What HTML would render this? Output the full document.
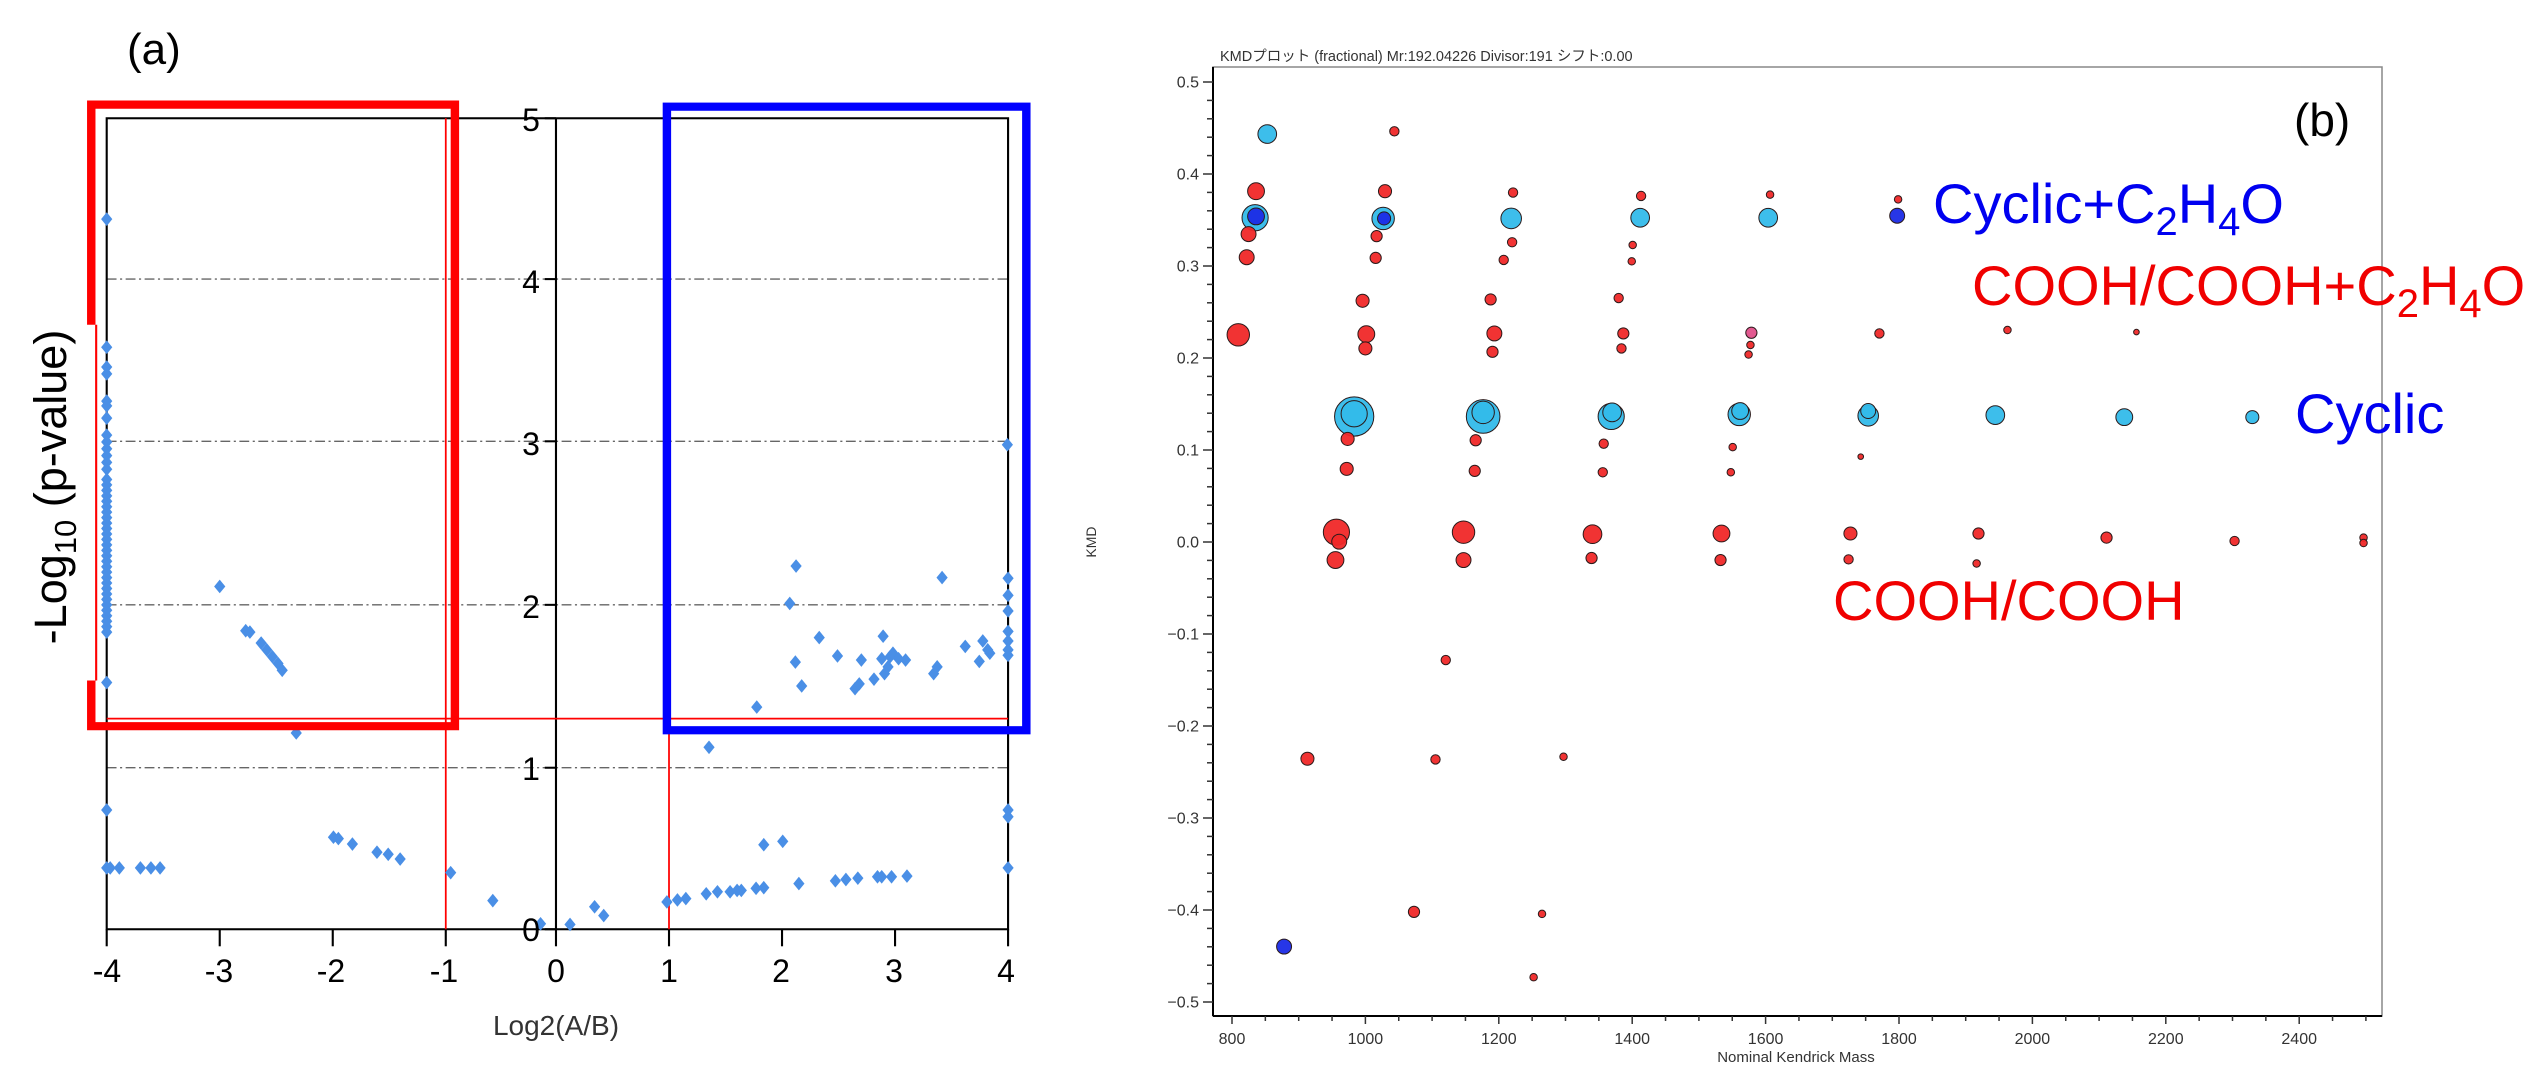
<!DOCTYPE html>
<html><head><meta charset="utf-8"><style>
html,body{margin:0;padding:0;background:#fff;}
svg{display:block;}
text{font-family:"Liberation Sans","Noto Sans CJK JP",sans-serif;}
</style></head><body>
<svg width="2543" height="1067" viewBox="0 0 2543 1067" xmlns="http://www.w3.org/2000/svg">
<rect width="2543" height="1067" fill="#fff"/>
<!-- LEFT PANEL in zoom1 coords -->
<g transform="translate(0,-1) scale(0.702,0.6815)">
  <g stroke="#666" stroke-width="2" stroke-dasharray="14,5,3,5">
    <line x1="152" y1="411" x2="1436" y2="411"/>
    <line x1="152" y1="649" x2="1436" y2="649"/>
    <line x1="152" y1="889" x2="1436" y2="889"/>
    <line x1="152" y1="1128" x2="1436" y2="1128"/>
  </g>
  <rect x="152" y="175" width="1284" height="1190" fill="none" stroke="#000" stroke-width="3"/>
  <line x1="792" y1="175" x2="792" y2="1365" stroke="#000" stroke-width="3"/>
  <g stroke="#000" stroke-width="3">
    <line x1="776" y1="175" x2="792" y2="175"/><line x1="776" y1="411" x2="792" y2="411"/>
    <line x1="776" y1="649" x2="792" y2="649"/><line x1="776" y1="889" x2="792" y2="889"/>
    <line x1="776" y1="1128" x2="792" y2="1128"/><line x1="776" y1="1365" x2="792" y2="1365"/>
    <line x1="152" y1="1365" x2="152" y2="1390"/><line x1="313" y1="1365" x2="313" y2="1390"/>
    <line x1="474" y1="1365" x2="474" y2="1390"/><line x1="635" y1="1365" x2="635" y2="1390"/>
    <line x1="792" y1="1365" x2="792" y2="1390"/><line x1="953" y1="1365" x2="953" y2="1390"/>
    <line x1="1114" y1="1365" x2="1114" y2="1390"/><line x1="1275" y1="1365" x2="1275" y2="1390"/>
    <line x1="1436" y1="1365" x2="1436" y2="1390"/>
  </g>
  <line x1="152" y1="1056" x2="1436" y2="1056" stroke="#f00" stroke-width="2.5"/>
  <line x1="635" y1="175" x2="635" y2="1365" stroke="#f00" stroke-width="2.5"/>
  <line x1="953" y1="175" x2="953" y2="1365" stroke="#f00" stroke-width="2.5"/>
  <g fill="#4a8fe6" id="dl">
  </g>
  <g stroke="#f00" fill="none">
    <polyline points="130,478 130,155 648,155 648,1067 130,1067 130,1000" stroke-width="12"/>
    <line x1="137" y1="478" x2="137" y2="1000" stroke-width="3"/>
  </g>
  <rect x="950" y="158" width="512" height="915" fill="none" stroke="#00f" stroke-width="12"/>
</g>
<g font-size="32" fill="#000" text-anchor="middle">
  <text x="531" y="131">5</text><text x="531" y="293">4</text><text x="531" y="455">3</text>
  <text x="531" y="618">2</text><text x="531" y="780">1</text><text x="531" y="941">0</text>
  <text x="107" y="982">-4</text><text x="219" y="982">-3</text><text x="331" y="982">-2</text>
  <text x="444" y="982">-1</text><text x="556" y="982">0</text><text x="669" y="982">1</text>
  <text x="781" y="982">2</text><text x="894" y="982">3</text><text x="1006" y="982">4</text>
</g>
<text x="556" y="1035" font-size="28" fill="#333" text-anchor="middle">Log2(A/B)</text>
<text x="127" y="64" font-size="44" fill="#000">(a)</text>
<text transform="translate(66,487) rotate(-90)" font-size="45" fill="#000" text-anchor="middle">-Log<tspan font-size="31" dy="10">10</tspan><tspan dy="-10"> (p-value)</tspan></text>
<!-- RIGHT PANEL -->
<rect x="1213" y="67" width="1169" height="949" fill="none" stroke="#888" stroke-width="1.5"/>
<line x1="1213" y1="1016" x2="2382" y2="1016" stroke="#000" stroke-width="2"/>
<line x1="1213" y1="67" x2="1213" y2="1016" stroke="#000" stroke-width="2"/>
<g id="ticks" stroke="#333" stroke-width="1.5"></g>
<text x="1220" y="61" font-size="14.5" fill="#333">KMDプロット (fractional) Mr:192.04226 Divisor:191 シフト:0.00</text>
<g font-size="16" fill="#333" text-anchor="end" id="ylab"></g>
<g font-size="16" fill="#333" text-anchor="middle" id="xlab"></g>
<text x="1796" y="1062" font-size="15" fill="#333" text-anchor="middle">Nominal Kendrick Mass</text>
<text transform="translate(1096,542) rotate(-90)" font-size="14" fill="#333" text-anchor="middle">KMD</text>
<g transform="translate(1079.4,0) scale(0.9346,0.6805)" id="pts"></g>
<text x="2294" y="136" font-size="46" fill="#000">(b)</text>
<g font-size="56">
<text x="1933" y="223" fill="#0000f0">Cyclic+C<tspan font-size="40" dy="12">2</tspan><tspan dy="-12">H</tspan><tspan font-size="40" dy="12">4</tspan><tspan dy="-12">O</tspan></text>
<text x="1972" y="305" fill="#f00000">COOH/COOH+C<tspan font-size="40" dy="12">2</tspan><tspan dy="-12">H</tspan><tspan font-size="40" dy="12">4</tspan><tspan dy="-12">O</tspan></text>
<text x="2295" y="433" fill="#0000f0">Cyclic</text>
<text x="1833" y="620" fill="#f00000">COOH/COOH</text>
</g>
<script>
var NS="http://www.w3.org/2000/svg";
function el(p,n,a){var e=document.createElementNS(NS,n);for(var k in a)e.setAttribute(k,a[k]);p.appendChild(e);return e;}
var dl=document.getElementById('dl');
var L=[[152,323],[152,511],[152,540],[152,550],[152,590],[152,597],[152,615],[152,640],[152,650],[152,660],[152,670],[152,680],[152,690],[152,1003],[152,1190],[152,1275],[157,1275],[170,1275],[200,1275],[215,1275],[228,1275],
[313,862],[350,927],[356,929],[372,945],[380,955],[388,965],[396,975],[402,985],[422,1077],[475,1230],[482,1232],[502,1240],[537,1252],[553,1255],[570,1262],[642,1282],[702,1323],[770,1357],[812,1358],[847,1332],[860,1345],
[950,1325],[965,1322],[977,1320],[1006,1313],[1022,1310],[1040,1310],[1050,1308],[1056,1308],[1077,1305],[1088,1304],[1138,1298],[1190,1294],[1205,1292],[1222,1290],[1250,1288],[1256,1288],[1270,1288],[1292,1287],[1088,1241],[1115,1236],[1010,1098],[1078,1039],[1125,887],[1134,832],[1133,973],[1142,1008],[1167,937],[1193,964],[1218,1012],[1224,1005],[1227,970],[1245,998],[1258,935],[1256,968],[1260,990],[1265,980],[1268,965],[1272,960],[1280,968],[1290,970],[1330,990],[1335,980],[1342,849],[1375,950],[1395,972],[1400,942],[1407,955],[1410,960],[1435,654],[1436,850],[1436,875],[1436,898],[1436,928],[1436,942],[1436,955],[1436,963],[1436,1190],[1436,1200],[1436,1275]];
for(var y=705;y<=935;y+=8)L.push([152,y]);
L.forEach(function(p){var x=p[0],y=p[1],s=8,t=10;el(dl,'polygon',{points:(x)+','+(y-t)+' '+(x+s)+','+y+' '+x+','+(y+t)+' '+(x-s)+','+y});});
var tk=document.getElementById('ticks'),yl=document.getElementById('ylab'),xl=document.getElementById('xlab');
function Y(k){return 542-k*920;}function X(m){return 1232+(m-800)*0.667;}
for(var i=-25;i<=25;i++){var k=i*0.02,yy=Y(k),maj=(i%5==0);el(tk,'line',{x1:maj?1203:1207,y1:yy,x2:1213,y2:yy});
 if(maj){var t=el(yl,'text',{x:1199,y:yy+5.5});var v=(k).toFixed(1);if(v=="-0.0")v="0.0";t.textContent=v.replace('-','\u2212');}}
for(var m=800;m<=2500;m+=50){var xx=X(m),maj=(m%200==0);el(tk,'line',{x1:xx,y1:1016,x2:xx,y2:maj?1024:1021});
 if(maj){var t=el(xl,'text',{x:xx,y:1044});t.textContent=m;}}
var R='#f02828',C='#33bbea',B='#1b2be6',P='#e0508a';
var pts=[[201,197,10,C],[189,281,9,R],[188,320,14,C],[189,318,9,B],[181,344,8,R],[179,378,8,R],[170,492,12,R],[219,1391,8,B],[244,1115,7,R],
[337,193,5,R],[327,281,7,R],[325,321,12,C],[326,321,7,B],[318,347,6,R],[317,379,6,R],[303,442,7,R],[307,491,9,R],[306,512,7,R],[294,612,21,C],[294,608,14,C],[287,645,7,R],[286,689,7,R],[275,782,14,R],[278,796,8,R],[274,823,9,R],[392,970,5,R],[381,1116,5,R],[358,1340,6,R],
[464,283,5,R],[463,356,5,R],[454,382,5,R],[462,321,11,C],[440,440,6,R],[444,490,8,R],[442,517,6,R],[432,612,18,C],[432,606,12,C],[424,647,6,R],[423,692,6,R],[411,782,12,R],[411,823,8,R],[518,1112,4,R],[495,1343,4,R],[486,1436,4,R],
[601,288,5,R],[592,360,4,R],[591,384,4,R],[600,320,10,C],[577,438,5,R],[582,490,6,R],[580,512,5,R],[569,612,14,C],[570,606,10,C],[561,652,5,R],[560,694,5,R],[549,785,10,R],[548,820,6,R],
[739,286,4,R],[737,320,10,C],[719,489,6,P],[718,507,4,R],[716,521,4,R],[706,609,12,C],[707,604,9,C],[699,657,4,R],[697,694,4,R],[687,784,9,R],[686,823,6,R],
[876,293,4,R],[875,317,8,B],[856,490,5,R],[844,611,11,C],[844,604,8,C],[836,671,3,R],[825,784,7,R],[823,822,5,R],
[993,485,4,R],[980,610,10,C],[962,784,6,R],[960,828,4,R],[1131,488,3,R],[1118,613,9,C],[1099,790,6,R],[1255,613,7,C],[1236,795,5,R],[1374,790,4,R],[1374,798,4,R]];
var g=document.getElementById('pts');
pts.forEach(function(p){el(g,'ellipse',{cx:p[0],cy:p[1],rx:p[2],ry:p[2]*1.373,fill:p[3],stroke:'#2a1a1a','stroke-width':1,'vector-effect':'non-scaling-stroke','fill-opacity':0.95});});
</script>
</svg>
</body></html>
